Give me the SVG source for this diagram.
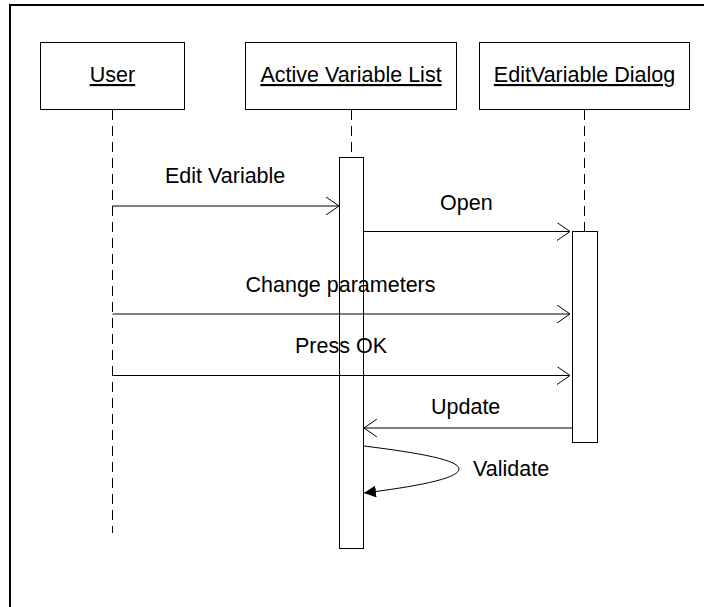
<svg xmlns="http://www.w3.org/2000/svg" width="704" height="607" viewBox="0 0 704 607">
<style>
.box{fill:#fff;stroke:#000;stroke-width:1}
.life{stroke:#000;stroke-width:1;stroke-dasharray:10,6;fill:none}
.msg{stroke:#000;stroke-width:1;fill:none}
.t{font-family:"Liberation Sans",Arial,sans-serif;font-size:21.5px;fill:#000}
.u{text-decoration:underline}
</style>
<defs>
<marker id="open" viewBox="0 0 13 18" refX="13" refY="9" markerWidth="13" markerHeight="18" markerUnits="userSpaceOnUse" orient="auto">
<path d="M0,0 L13,9 L0,18" fill="none" stroke="#000" stroke-width="1"/>
</marker>
<marker id="filled" viewBox="0 0 12 12" refX="12" refY="6" markerWidth="12" markerHeight="12" markerUnits="userSpaceOnUse" orient="auto">
<path d="M0,0 L12,6 L0,12 z" fill="#000"/>
</marker>
</defs>
<rect x="0" y="0" width="704" height="607" fill="#fff"/>
<rect x="10" y="5" width="720" height="640" fill="none" stroke="#000" stroke-width="2"/>

<g id="user">
<rect class="box" x="40.5" y="42.5" width="144" height="67"/>
<text class="t u" x="112.5" y="82" text-anchor="middle">User</text>
<line class="life" x1="112.5" y1="110" x2="112.5" y2="533"/>
</g>

<g id="active-variable-list">
<rect class="box" x="245.5" y="42.5" width="211" height="67"/>
<text class="t u" x="351" y="82" text-anchor="middle">Active Variable List</text>
<line class="life" x1="351.5" y1="110" x2="351.5" y2="158"/>
<rect class="box" x="339.5" y="157.5" width="24" height="391"/>
</g>

<g id="editvariable-dialog">
<rect class="box" x="479.5" y="42.5" width="210" height="67"/>
<text class="t u" x="584.5" y="82" text-anchor="middle">EditVariable Dialog</text>
<line class="life" x1="584.5" y1="110" x2="584.5" y2="231"/>
<rect class="box" x="572.5" y="231.5" width="25" height="211"/>
</g>

<g id="connectors">
<line class="msg" x1="112.5" y1="206" x2="339" y2="206" marker-end="url(#open)"/>
<text class="t" x="165" y="183">Edit Variable</text>
<line class="msg" x1="364" y1="231.5" x2="570" y2="231.5" marker-end="url(#open)"/>
<text class="t" x="440" y="210">Open</text>
<line class="msg" x1="112.5" y1="314" x2="570" y2="314" marker-end="url(#open)"/>
<text class="t" x="245.5" y="292">Change parameters</text>
<line class="msg" x1="112.5" y1="375.5" x2="570" y2="375.5" marker-end="url(#open)"/>
<text class="t" x="295" y="352.5">Press OK</text>
<line class="msg" x1="572" y1="428" x2="364" y2="428" marker-end="url(#open)"/>
<text class="t" x="431" y="414">Update</text>
<path class="msg" d="M364,446 C420,453 459,460 459,469 C459,479 412,487 364,493" marker-end="url(#filled)"/>
<text class="t" x="473" y="476">Validate</text>
</g>
</svg>
